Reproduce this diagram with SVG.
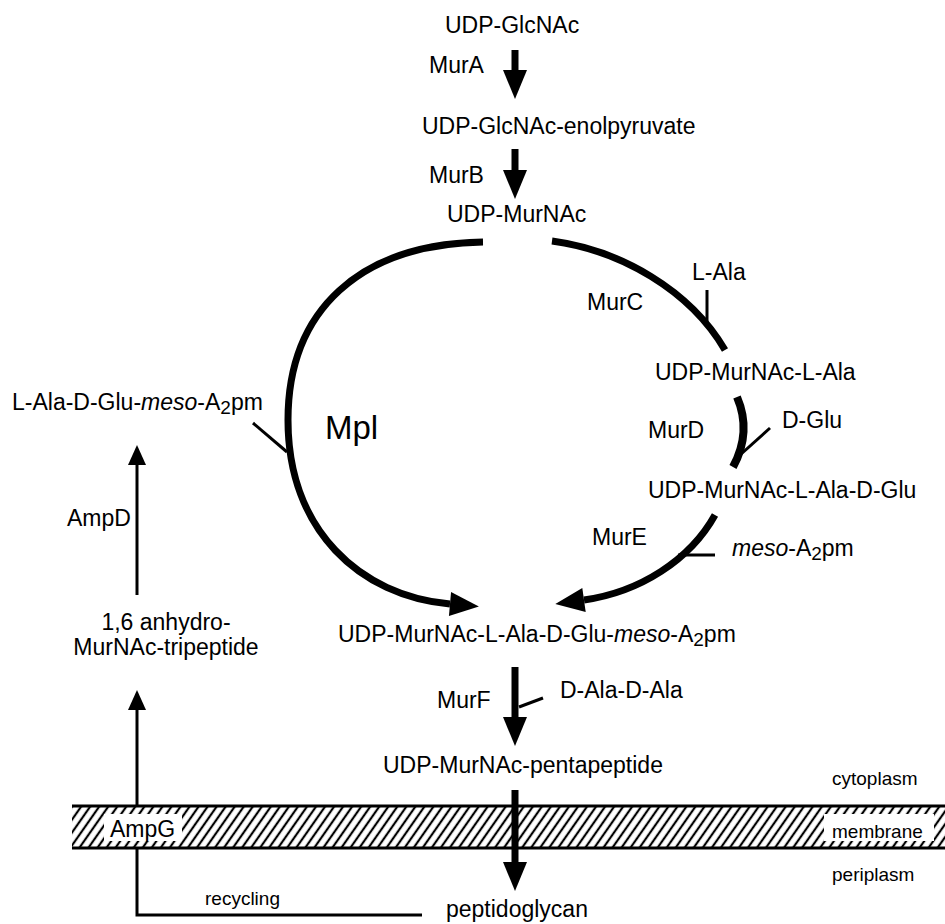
<svg xmlns="http://www.w3.org/2000/svg" width="945" height="924" viewBox="0 0 945 924">
<style>
text{font-family:"Liberation Sans",Arial,Helvetica,sans-serif;fill:#000;font-size:23px}
.sm{font-size:19px}
.big{font-size:33px}
.thick{fill:none;stroke:#000;stroke-width:7}
.thin{fill:none;stroke:#000;stroke-width:3}
.sub{font-size:19px}
</style>
<defs>
<marker id="ah" markerUnits="userSpaceOnUse" markerWidth="30" markerHeight="26" refX="0" refY="12" orient="auto" overflow="visible"><path d="M0,0 L29,12 L0,24 z" fill="#000"/></marker>
<marker id="ahs" markerUnits="userSpaceOnUse" markerWidth="22" markerHeight="22" refX="0" refY="10" orient="auto" overflow="visible"><path d="M0,1 L20,10 L0,19 z" fill="#000"/></marker>
<pattern id="hatch" patternUnits="userSpaceOnUse" width="7.4" height="8" patternTransform="rotate(35)"><line x1="3.7" y1="-1" x2="3.7" y2="9" stroke="#000" stroke-width="2.2"/></pattern>
</defs>
<rect width="945" height="924" fill="#fff"/>

<g id="membrane-layer">
<rect x="72" y="806" width="880" height="42" fill="url(#hatch)"/>
<line x1="72" y1="806" x2="945" y2="806" stroke="#000" stroke-width="3"/>
<line x1="72" y1="848" x2="945" y2="848" stroke="#000" stroke-width="3"/>
<rect x="104" y="814" width="78" height="27" fill="#fff"/>
<rect x="824" y="814" width="110" height="27" fill="#fff"/>
</g>

<g id="connectors">
<line class="thick" x1="515" y1="50" x2="515" y2="70" marker-end="url(#ah)"/>
<line class="thick" x1="515" y1="149" x2="515" y2="170" marker-end="url(#ah)"/>
<path class="thick" d="M483 242 C360 244 288 310 288 420 C288 530 360 596 450 604" marker-end="url(#ah)"/>
<path class="thick" d="M552 241 C620 250 690 290 725 350"/>
<path class="thick" style="stroke-width:8" d="M737 397 Q752 432 733 467"/>
<path class="thick" d="M715 515 C690 560 640 592 584 600" marker-end="url(#ah)"/>
<line class="thick" x1="515" y1="667" x2="515" y2="717" marker-end="url(#ah)"/>
<line class="thick" x1="515" y1="790" x2="515" y2="862" marker-end="url(#ah)"/>
<line class="thin" x1="707" y1="290" x2="707" y2="322"/>
<line class="thin" x1="770" y1="428" x2="740" y2="455"/>
<line class="thin" x1="715" y1="555" x2="678" y2="555"/>
<line class="thin" x1="253" y1="423" x2="287" y2="452"/>
<line class="thin" x1="543" y1="698" x2="519" y2="707"/>
<line class="thin" x1="137" y1="595" x2="137" y2="465" marker-end="url(#ahs)"/>
<line class="thin" x1="137" y1="806" x2="137" y2="710" marker-end="url(#ahs)"/>
<polyline class="thin" points="137,848 137,915 422,915"/>
</g>

<g id="udp-glcnac"><text x="445" y="33">UDP-GlcNAc</text></g>
<g id="murA"><text x="429" y="73">MurA</text></g>
<g id="udp-glcnac-enolpyruvate"><text x="422" y="134">UDP-GlcNAc-enolpyruvate</text></g>
<g id="murB"><text x="429" y="183">MurB</text></g>
<g id="udp-murnac"><text x="447" y="222">UDP-MurNAc</text></g>
<g id="l-ala"><text x="692" y="280">L-Ala</text></g>
<g id="murC"><text x="587" y="310">MurC</text></g>
<g id="udp-murnac-l-ala"><text x="655" y="380">UDP-MurNAc-L-Ala</text></g>
<g id="d-glu"><text x="782" y="428">D-Glu</text></g>
<g id="murD"><text x="648" y="438">MurD</text></g>
<g id="udp-murnac-l-ala-d-glu"><text x="648" y="498">UDP-MurNAc-L-Ala-D-Glu</text></g>
<g id="murE"><text x="592" y="545">MurE</text></g>
<g id="meso-a2pm"><text x="732" y="556"><tspan font-style="italic">meso</tspan>-A<tspan class="sub" dy="4">2</tspan><tspan dy="-4">pm</tspan></text></g>
<g id="tripeptide"><text x="12" y="410">L-Ala-D-Glu-<tspan font-style="italic">meso</tspan>-A<tspan class="sub" dy="4">2</tspan><tspan dy="-4">pm</tspan></text></g>
<g id="mpl"><text class="big" x="325" y="439">Mpl</text></g>
<g id="ampD"><text x="67" y="526">AmpD</text></g>
<g id="anhydro"><text x="166" y="630" text-anchor="middle">1,6 anhydro-</text><text x="166" y="655" text-anchor="middle">MurNAc-tripeptide</text></g>
<g id="udp-murnac-tripeptide"><text x="338" y="642">UDP-MurNAc-L-Ala-D-Glu-<tspan font-style="italic">meso</tspan>-A<tspan class="sub" dy="4">2</tspan><tspan dy="-4">pm</tspan></text></g>
<g id="murF"><text x="437" y="708">MurF</text></g>
<g id="d-ala-d-ala"><text x="560" y="698">D-Ala-D-Ala</text></g>
<g id="pentapeptide"><text x="383" y="773">UDP-MurNAc-pentapeptide</text></g>
<g id="cytoplasm"><text class="sm" x="832" y="785">cytoplasm</text></g>
<g id="ampG"><text x="110" y="837">AmpG</text></g>
<g id="membrane"><text class="sm" x="832" y="838">membrane</text></g>
<g id="periplasm"><text class="sm" x="832" y="881">periplasm</text></g>
<g id="recycling"><text class="sm" x="205" y="905">recycling</text></g>
<g id="peptidoglycan"><text x="446" y="917">peptidoglycan</text></g>
</svg>
